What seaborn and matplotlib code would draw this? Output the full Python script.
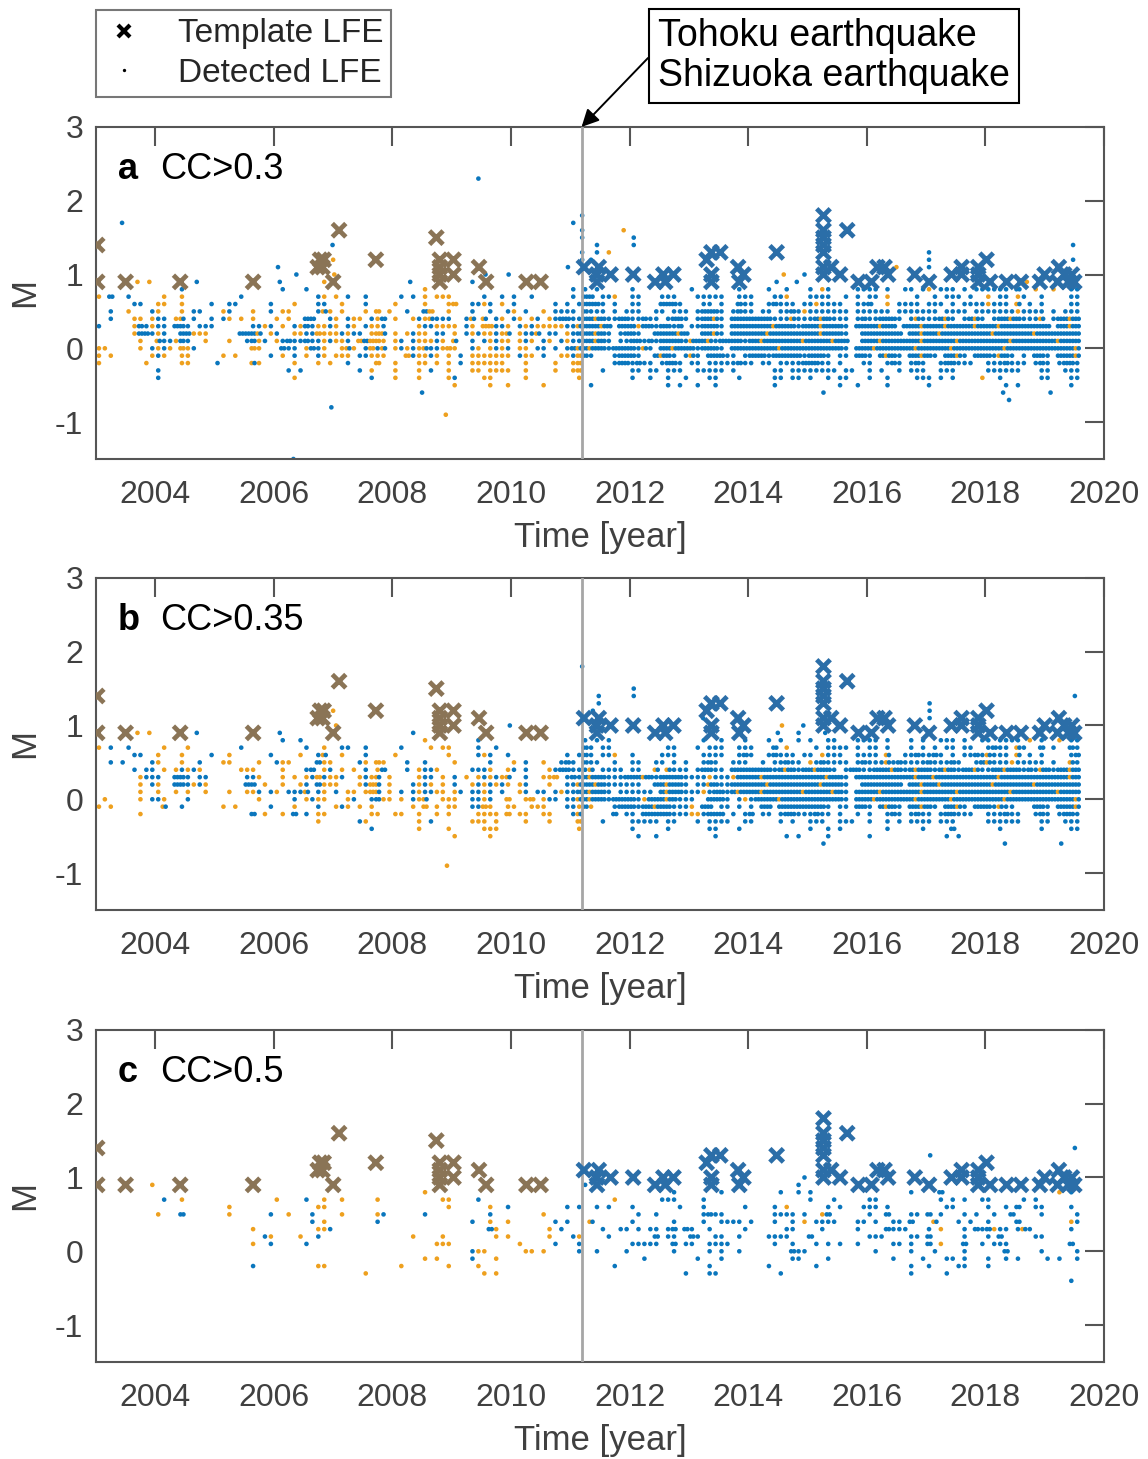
import matplotlib
matplotlib.use("Agg")
import matplotlib.pyplot as plt
from matplotlib.lines import Line2D
import pandas as pd
import seaborn as sns

# ---------------------------------------------------------------------------
# Template LFEs (same catalogue in every panel): decimal year and magnitude
# ---------------------------------------------------------------------------
TEMPLATE_TIME = [
    2003.02, 2003.02, 2003.50, 2004.42, 2005.65, 2006.74, 2006.82, 2006.78,
    2006.84, 2007.00, 2007.10, 2007.72, 2008.74, 2008.80, 2008.80, 2008.80,
    2008.80, 2009.03, 2009.03, 2009.46, 2009.58, 2010.26, 2010.50,
    2011.23, 2011.48, 2011.45, 2011.45, 2011.68, 2012.06, 2012.43, 2012.57,
    2012.60, 2012.74, 2013.30, 2013.38, 2013.53, 2013.38, 2013.38, 2013.83,
    2013.92, 2013.85, 2014.48, 2015.27, 2015.27, 2015.27, 2015.27, 2015.27,
    2015.27, 2015.27, 2015.40, 2015.55, 2015.67, 2015.86, 2016.08, 2016.18,
    2016.30, 2016.36, 2016.81, 2017.05, 2017.43, 2017.60, 2017.60, 2017.88,
    2017.88, 2017.88, 2018.02, 2018.08, 2018.36, 2018.60, 2018.92, 2019.00,
    2019.24, 2019.22, 2019.33, 2019.46, 2019.50, 2019.40,
]
TEMPLATE_MAG = [
    1.4, 0.9, 0.9, 0.9, 0.9, 1.1, 1.1, 1.2,
    1.2, 0.9, 1.6, 1.2, 1.5, 1.2, 1.1, 1.0,
    0.9, 1.2, 1.0, 1.1, 0.9, 0.9, 0.9,
    1.1, 1.1, 1.0, 0.9, 1.0, 1.0, 0.9, 1.0,
    0.9, 1.0, 1.2, 1.3, 1.3, 1.0, 0.9, 1.1,
    1.0, 0.9, 1.3, 1.8, 1.6, 1.5, 1.4, 1.3,
    1.1, 1.0, 1.1, 1.0, 1.6, 0.9, 0.9, 1.1,
    1.1, 1.0, 1.0, 0.9, 1.0, 1.1, 1.0, 1.1,
    1.0, 0.9, 1.2, 0.9, 0.9, 0.9, 0.9, 1.0,
    1.1, 0.9, 1.0, 1.0, 0.9, 0.9,
]

MAINSHOCK_YEAR = 2011.19          # 2011 Tohoku / Shizuoka earthquakes

# ---------------------------------------------------------------------------
# Detected LFEs.  Each row is one magnitude level; the row is split into
# yearly groups (2003 ... 2019) of ten 0.1-year bins.
#   '.' empty   b / B : one / two blue events   o / O : one / two orange
#   x : one orange and one blue event
# ---------------------------------------------------------------------------
MAGS_AB = [0.8, 0.7, 0.6, 0.5, 0.4, 0.3, 0.2, 0.1, 0.0, -0.1, -0.2, -0.3, -0.4, -0.5]
MAGS_C = [1.0, 0.9, 0.8, 0.7, 0.6, 0.5, 0.4, 0.3, 0.2, 0.1, 0.0, -0.1, -0.2, -0.3, -0.4]

ROWS_A = [
    ". ....b . .b...b . .....o . . b.b.b b b.......b ...b..b b.ob....bb bb.b..bb.b o.bbb.b.bb bbbb.B..o. .o..bb",
    "o.B..b .o..o ....b .......bo. o.b..b .b.b.o.ooo .....b..b. b..b b.BB.bbo.. bb...bbb.. .bbbbb..bb b...bbo... bbbb..b.b. bb.o....b. .b.bbb.b.. o.bb.ob..b ....bb",
    "......bb.. oo..o....b ..bb.....b ...o...bb. .o...b.... o....o...o O..bbob.o. b......b.b .bBBBb.b.. bb...BBBb. ..bb.b..Bb b..bBbbb.b bobbbb..bb B..o.bbbb. bbb.b.bbbb obbb.x.b.b ....bb",
    "..b..o...b o...o.bb.. .ob...o..b .oo....bxo .o...o.O.o ..b..BO..o ...b..b..b o.b..o.bbb b.Bbbb.b.b bb..bb.bbb .bBBBb.bBb b.bb.bbBbo bbbbbbb.bb bbbb.bbbbb bb.bbbb.bb bbbbbobbbb .b.bbb",
    "..b...oo.o bb.ox.b..b .bo.o.o... o.o..BB..b o.boo.boB. o..oboxbbb ..bx.x.bo. bo.ob.obBB bbBBxBbbBB bbBbb.bBBb .bBBxb.BBB BBBBbbbxbb bBxBbbb.bB bbBBBb.bxb bbBxb.bBxb .bBBxBbbbx .bBBxB",
    "b.....oBbo bb.BBb.bbb ......bbob .o.boBboob o.bo.boob. ....obbooo o.bo.OObbo .bobooooob bxBBBxB.BB BoBBbBBbB. bbBBBb.BBB BBBBxBBBbB BBxBBBb.BB BBxBB.BBBx BBBxBBBBxB BBxBBBBBBB B.BBxB",
    "......oBBb ob..BBooo. ....BBBx.o b..oobbOoo obobb.oOx. o.oboo.bb. o.boboobox .obbx.bb.o bBBBxBb.bB Bb..BBBBxB ..BBxb.BBB BBBxBBBBBB BBxBBBb..B BBBBBB.BBx BBxBBBBBBB BxBBBBBBxB BBBBBB",
    ".......o.. xbboBb..o. ..o..bBob. obBbbBbbob oob.OBOOo. ob.booobo. x..b.boboo .obo.bo.bo bbBBxBb.bb BBbBbBBBBb xBBxbBBBBb BBxBBBBBBx BBBBxBB..B BBxBBBBBBx BBBBBxBBBB BBBBxBBBBB BBxBBB",
    "oo.....o.b obo.Oob... ......Oo.. .Bbb.oBbo. .oxo.bObx. oboboxbboO o..bo.obob .oo.bb.b.b BxBxBBbBBB Bbxb.BBxBB BbBBBb.BBB BBBBBxBBBB BBBBBBb.BB BxBBBBBBxB BBBBxBBBBB BBBxBBBBBB BBBBBx",
    "o.o......o bo..oo.... .o.o.....b .o.b.o.bo. ooo.bbooo. ..Oboobo.o .b.ooooooo .boo.b..oo bOBb...bBB Bb..BxBb.b xb.BBBbb.b BBBbBBBBBb BBBb.bb.BB b.BxBb.BBx Bb.BBxb.BB BbxBb.b.BB b.BBBx",
    "o.......o. ....oo.... b.....xo.. ...o...o.o ..b....O.. o...oo.o.o .b.oooooo. ..o....o.. oO.....bBB bBbb.bBBb. bb.bbbbbBb b.bb.bbbbB BBbb.b...b b..bBb.bBb ..bBBbbb.. bbbBbbb.bB b.bBBb",
    ". b . ..b.b ....b.o o...o.b..o ...oo.oooo ..o....o.. oO...b.... bb.bb.bbb. .bbbbb.b.. ....bb.bbb bbbbb.bb.. b.b..b.bbb ..bbb..... bbbbbb...b b..bbb",
    ". b . ...o ......b o...o....o b....oo... ..o .o b..b..b..b ...bb...b. ....bb.bb. b..b.bb... b..b....bb b.b.b....o ..b......b b...bb",
    ". . . . . . o.....o..o .....o ...b ......b.b. .b..b ....b .....b..b. ...b b ...b.b ....b.",
]

ROWS_B = [
    ". . . .b..b . .....o ....b . ..b.b.b . ..b..b...b ...b.b..b b..bb...bb bb.b...b.b ..bbb.b..b b.bbbb.o.b ..o.bb",
    "o.b..b .o...o ....b .....b..o .bb..b .b....o.oo ....b..b . ..Bb.bb ......bb .b.bbb..bb b...B.o .b.bbbb.b bb.b...b.b .b.bb.bb bBbb.xb..B .b..Bb",
    "......bb o...o....b ..o......b ....o..bx .o...b o........o ....bob..b .........b .bBb.bbo b....bbb ..bbbb..bB b..bBbbb.b b.obbb..bb bb.x..bbBb bBb.b.bbBb xbbb.x.b.b ....bB",
    "..b.b....b o...o..b .oo....o boo....Boo ....bo.Oo ..b..b o.....b o.b..o..bB b.Bbb..b bb..bb.b.b ..bBb..bbb ..b.bbBbb. obBbbbb.bB bbbxbBbbbb BbbbBb..bB xbbbobbbbb .b..xb",
    "......b.bb .o.obobo ....ooo .o...bB.ob .o.o.b.oB. ..b.obbo ...bbbo..o b.b...obBB bbbx.bbbb bb..x.xbbb .bBBbb.BBB BBBBbBxBbB BxBBb.bBBb bBBBxBbBxB BbBxBbBBxb bBBxBBbBbx BbBBxB",
    ".......obb b..BBb.bb .....bbo .o.o.obObo ob..obox.o ....obb.o b.o.obobox ..b..ooO.b BbBxBBbbbB BBxBbBBBBb bbbobbboBB BBxBBBBBBB BBBxBBb.BB BBBBBBBBxB BxBBBBBBBB BBxBBBBBBB BBBBxB",
    ".......o.b o..BBbobo .....BB.o .o..ob.Boo o...obOx.o ...bobo.o b..obobobo .ob...o..b bxBBxBbbbb bb..BBxBBb .bbxBbbBBB BBBxBBBBBB BBxBBBb..B BBBBBB.BBx BBxBBBBBBB BxBBBBBBxB BBBBBB",
    ".......o o..o.o..o ..o..oob.b o.bbbx.bo b.oo.oOx.o .b.bobboo. ob.bbob.b. .ob.bb.bob bBBxBBb.bb bbbb.BxBBb bbobBBbBxB BBxBBBBBBx BBBBxBb.BB BBxBBBBBBx BBBBBxBBBB BBBBxBBBBB BBxBBB",
    ".o.....o.b bo...b .......o ...b.oboo ..ob..bBoo .o.box..oo o..bbob..O ..oO.obb.b bxBxBBbBBB BboBBBxBbb b..BBBb.bo bBBBBxBBBB BBBBBBb.BB BxBBBBBBxB BBBBxBBBBB BBBxBBBBBB BBBBBx",
    "o.o .x..b .o.o.....b ...o...b obo.o.o ...o.O.o.o o..bbOo..o o..ooo...b boBo...bBB BbBBxBBbbb o.BB.bb.b. b.BB.BBBBB BBBb.bb.BB b.BxBb.BBx Bb.BBxb.BB Bbxbb...BB b.BBBx",
    ".......o . ......B.o .o.B.b.oo ......oo oo..o..o.o ....oooo.O .oo..oo bx.....B.b b.BBBBBbbb oobBBB.b.b B.bb.bBBbb bBbb.b..b. b..bBb.bBb b.bBBbbb.. bbbBbb..bB b.bBBb",
    ". . . .......o ....bo ....o.b ...ooo.o ..o...o .O...b bbbbb.bb .b.bbbb..b b....b.b.. bbb..bbb.. b..b.b.bbb b.bbb bbbbbb...b b..bbb",
    ". . . . ......b ....o....o .....ooo . .o b.....b ...bb...b . b..b.b ...b.....b ....B ..b......b ....bb",
    ". . . . . . o.....o . . .b..b ....b ......b.b ...b b ...b.b .",
]

ROWS_C = [
    ". . . . . . . . . . . .........b . . . . .",
    ".........o . . . . . . . ..b . . ........b . . . . .",
    ". . . . . .....o . . . .......b .....b .....b..b b .......b ..B . ..o.b",
    ". .b..o . o....b..o .o.....o ........oo ....b . .......o .....bbb ..b . b...b bb ..b.b.b..b b.....b.b .",
    ". . ..o .......oo . .........o ......o..b .........b .b..b.b b.......b ..b......b ....b.o ...b.b...b bb.b ...bb b..b.B..bb ....b",
    ". o...B ..o......b ..o...b .o.....ob .....b ......b .....o . .b..b ..bBbb ....bbbb.b ..oB b..B...bb B.b...b.b .b..B....b .....b",
    ". . . ......b.o .......b . ...b..o..o .......b.b ...x b......b ..b..bbbb b...b..b.o .bbbb...bb .b..bb.B .x...b.b b....B ....ob",
    ". . ......o .......oob . . ......Bo ......o.b .....b..bb .b.bb.bB.B b..b.....b ......bb ..b.....b ...Bbbb b.o...b.Bb Bobb.bxb ....b",
    ". . ........bo ....o..b . ...o....o .......o.o ......o bo....b ....B.bb Bb..bb..b ...bbbb B bbb....bb B.....b b.B.....bb .",
    ". . ......o..b .....b . .......ooo . .o.....b .b bbbbb..B.b b..bbbb ....b..b .b.b.b..b ....bb.b B.o...B..b .bbb ....B",
    ". . . . . . ...boo ..oo.o .b..b....b .......b ...b.b..b .......Bbb . .b.....b .b....b ...B.....b .....b",
    ". . . . . .....o.o ...b...o . . ..b .b...b .......bb ...b ....b....b ...bb.b b..b.b b.b..b",
    ". . ......b .......oo . .o.......o ....o . .......b . ...b ...b .b .......b b....bb b .",
    ". . . . .....o . .....o.o . . .........b ...bb .....b . .......b ...b . .",
    ". . . . . . . . . . . . . . . . ....b",
]

# Isolated detected events outside the gridded band: (year, magnitude)
EXTRA_A_BLUE = [
    (2003.44, 1.7), (2009.45, 2.3), (2006.33, -1.5), (2006.97, -0.8), (2008.50, -0.6),
    (2006.07, 1.1), (2006.10, 0.9), (2006.38, 1.0), (2006.99, 1.4), (2008.30, 0.9),
    (2009.35, 0.9), (2009.57, 1.0), (2009.96, 1.0), (2010.96, 1.1), (2011.05, 1.7),
    (2011.20, 1.8), (2011.20, 1.6), (2011.20, 1.5), (2011.20, 1.3), (2011.20, 1.2),
    (2011.45, 1.3), (2011.45, 1.4), (2011.35, 1.2), (2012.07, 1.5), (2012.07, 1.4),
    (2014.95, 1.0), (2014.48, 0.9), (2014.82, 0.9), (2017.05, 1.3), (2017.05, 1.2),
    (2017.05, 1.1), (2019.48, 1.4), (2019.48, 1.2), (2015.27, -0.6), (2018.30, -0.6),
    (2019.10, -0.6), (2018.40, -0.7), (2004.70, 0.9),
]
EXTRA_A_ORANGE = [
    (2003.70, 0.9), (2003.90, 0.9), (2007.00, 1.2), (2007.02, 1.0), (2006.85, 0.9),
    (2008.90, -0.9), (2011.90, 1.6), (2011.65, 1.3), (2014.60, 1.0), (2016.50, 1.1),
    (2018.70, 0.9),
]
EXTRA_B_BLUE = [
    (2004.70, 0.9), (2006.10, 0.9), (2008.35, 0.9), (2009.98, 1.0), (2011.20, 1.8),
    (2011.48, 1.4), (2011.48, 1.3), (2011.38, 1.2), (2012.07, 1.5), (2012.07, 1.4),
    (2013.24, 1.1), (2014.50, 0.9), (2014.85, 0.9), (2015.30, 0.9), (2014.93, 1.0),
    (2017.06, 1.3), (2017.06, 1.2), (2017.06, 1.1), (2019.51, 1.4), (2015.27, -0.6),
    (2018.33, -0.6), (2019.28, -0.6),
]
EXTRA_B_ORANGE = [
    (2003.70, 0.9), (2003.90, 0.9), (2007.00, 1.2), (2007.05, 1.0), (2008.92, -0.9),
    (2014.57, 1.0),
]
EXTRA_C_BLUE = [(2017.07, 1.3), (2019.51, 1.4)]
EXTRA_C_ORANGE = []

PANEL_TAGS = ["a", "b", "c"]
PANEL_TITLES = ["CC>0.3", "CC>0.35", "CC>0.5"]

X_TICKS = list(range(2004, 2021, 2))
Y_TICKS = [-1, 0, 1, 2, 3]

BLUE_DOT = "#0a76bd"
ORANGE_DOT = "#eea01e"
BROWN_X = "#8a7456"
BLUE_X = "#2b6ea8"
AXIS_GREY = "#555555"
TEXT_GREY = "#404040"


def decode_rows(rows, mags, start=2003.0, width=0.1):
    """Turn the binned row strings into one record per detected event."""
    recs = []
    for mag, row in zip(mags, rows):
        for g, grp in enumerate(row.split()):
            grp = grp.ljust(10, ".")[:10]
            for p, ch in enumerate(grp):
                t0 = start + width * (10 * g + p)
                if ch == "b":
                    recs.append((t0 + 0.5 * width, mag, "blue"))
                elif ch == "o":
                    recs.append((t0 + 0.5 * width, mag, "orange"))
                elif ch == "B":
                    recs += [(t0 + 0.25 * width, mag, "blue"), (t0 + 0.75 * width, mag, "blue")]
                elif ch == "O":
                    recs += [(t0 + 0.25 * width, mag, "orange"), (t0 + 0.75 * width, mag, "orange")]
                elif ch == "x":
                    recs += [(t0 + 0.25 * width, mag, "orange"), (t0 + 0.75 * width, mag, "blue")]
    return recs


def detected_frame(rows, mags, extra_blue, extra_orange):
    recs = decode_rows(rows, mags)
    recs += [(t, m, "blue") for t, m in extra_blue]
    recs += [(t, m, "orange") for t, m in extra_orange]
    return pd.DataFrame(recs, columns=["time", "mag", "group"])


detected = [
    detected_frame(ROWS_A, MAGS_AB, EXTRA_A_BLUE, EXTRA_A_ORANGE),
    detected_frame(ROWS_B, MAGS_AB, EXTRA_B_BLUE, EXTRA_B_ORANGE),
    detected_frame(ROWS_C, MAGS_C, EXTRA_C_BLUE, EXTRA_C_ORANGE),
]

templates = pd.DataFrame({"time": TEMPLATE_TIME, "mag": TEMPLATE_MAG})
templates["era"] = ["before" if t < MAINSHOCK_YEAR else "after" for t in templates["time"]]

# ---------------------------------------------------------------------------
sns.set_theme(style="white")
plt.rcParams["font.family"] = ["Liberation Sans", "DejaVu Sans"]
plt.rcParams["axes.unicode_minus"] = False

fig = plt.figure(figsize=(11.48, 14.59), dpi=100)
bottoms = [0.6854, 0.3763, 0.0665]
axes = [fig.add_axes([0.0836, b, 0.878, 0.2276]) for b in bottoms]

for ax, df, tag, title in zip(axes, detected, PANEL_TAGS, PANEL_TITLES):
    sns.scatterplot(data=df, x="time", y="mag", hue="group",
                    palette={"blue": BLUE_DOT, "orange": ORANGE_DOT},
                    s=11, linewidth=0, legend=False, ax=ax, zorder=2)
    ax.axvline(MAINSHOCK_YEAR, color="#a6a6a6", lw=2.0, zorder=3)
    sns.scatterplot(data=templates, x="time", y="mag", hue="era",
                    palette={"before": BROWN_X, "after": BLUE_X},
                    marker="x", s=95, linewidth=3.4, legend=False, ax=ax, zorder=4)

    ax.set_xlim(2003, 2020)
    ax.set_ylim(-1.5, 3)
    ax.set_xticks(X_TICKS)
    ax.set_yticks(Y_TICKS)
    ax.set_xticklabels([str(v) for v in X_TICKS])
    ax.set_yticklabels([str(v) for v in Y_TICKS])
    ax.tick_params(axis="both", which="both", direction="in", length=14, width=1.5,
                   color=AXIS_GREY, labelcolor=TEXT_GREY, labelsize=23,
                   top=True, right=True)
    ax.tick_params(axis="x", pad=15)
    ax.tick_params(axis="y", pad=9)
    for sp in ax.spines.values():
        sp.set_color(AXIS_GREY)
        sp.set_linewidth(1.5)
        sp.set_visible(True)
    ax.set_xlabel("Time [year]", fontsize=25, color=TEXT_GREY, labelpad=8)
    ax.set_ylabel("M", fontsize=25, color=TEXT_GREY, labelpad=10)
    ax.grid(False)

    ax.text(0.0218, 0.872, tag, transform=ax.transAxes, fontsize=26,
            fontweight="bold", va="center", ha="left", color="black", zorder=6)
    ax.text(0.0635, 0.872, title, transform=ax.transAxes, fontsize=26,
            va="center", ha="left", color="black", zorder=6)

# Legend for the two marker types
handles = [
    Line2D([], [], marker="x", color="black", ls="", markersize=9, mew=3.0),
    Line2D([], [], marker="o", color="black", ls="", markersize=2.4, mew=0),
]
leg = fig.legend(handles, ["Template LFE", "Detected LFE"], loc="upper left",
                 bbox_to_anchor=(0.0836, 0.9932), frameon=True, fancybox=False,
                 edgecolor=AXIS_GREY, fontsize=24, handlelength=1.2,
                 handletextpad=1.0, borderpad=0.25, labelspacing=0.25,
                 borderaxespad=0.0)
leg.get_frame().set_linewidth(1.5)

# Earthquake annotation
fig.text(0.5733, 0.9875, "Tohoku earthquake\nShizuoka earthquake", fontsize=27,
         ha="left", va="top", color="black", linespacing=1.12,
         bbox=dict(boxstyle="square,pad=0.24", fc="white", ec="black", lw=1.5))
axes[0].annotate("", xy=(MAINSHOCK_YEAR, 3.0), xycoords="data",
                 xytext=(648 / 1148, 1 - 58 / 1459), textcoords="figure fraction",
                 arrowprops=dict(arrowstyle="-|>", color="black", lw=1.4,
                                 mutation_scale=26, shrinkA=0, shrinkB=0),
                 annotation_clip=False)

fig.savefig("out.png", dpi=100)
